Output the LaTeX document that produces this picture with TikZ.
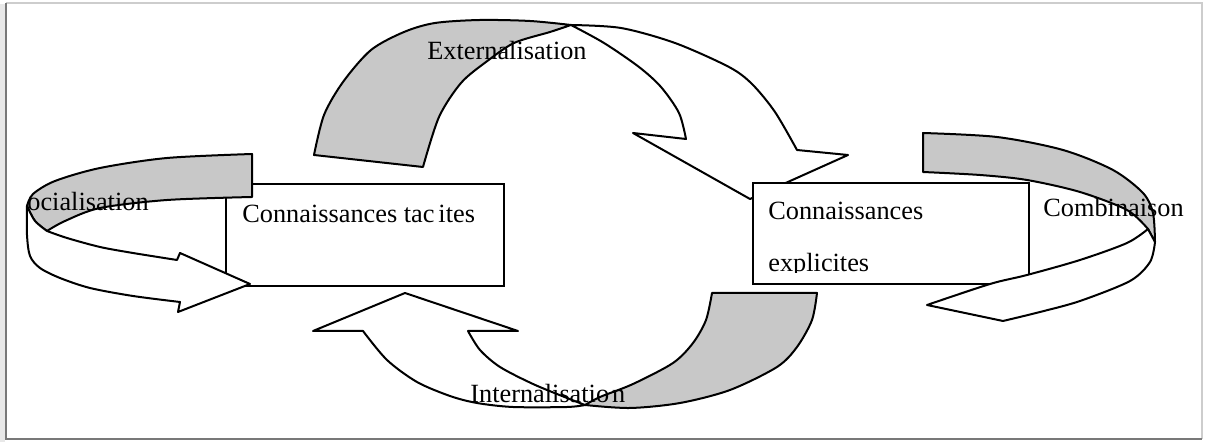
\documentclass[tikz,border=0pt]{standalone}
\usepackage{fontspec}
\setmainfont{Liberation Serif}
\usetikzlibrary{calc}
\definecolor{ribbon}{RGB}{200,200,200}
\definecolor{framedark}{RGB}{120,120,120}
\definecolor{framelight}{RGB}{205,205,205}
\newcommand{\labelfont}{\fontsize{13.15}{15}\selectfont}
\tikzset{
  outline/.style={draw=black, line width=1pt, line join=round},
  backside/.style={outline, fill=ribbon},
  frontside/.style={outline, fill=white},
  box/.style={draw=black, line width=1pt, fill=white, inner sep=0pt, anchor=north west},
  lbl/.style={inner sep=0pt, anchor=base west, font=\labelfont},
}
\begin{document}
\begin{tikzpicture}[x=0.5pt, y=-0.5pt]
  % page and frame
  \fill[white] (0,0) rectangle (1206,442);
  \useasboundingbox (0,0) rectangle (1206,442);
  \fill[gray!18] (0,4) rectangle (5,442);
  \draw[framelight, line width=0.6pt] (6,3) -- (1202,3) -- (1202,439);
  \draw[framedark, line width=1.3pt] (6,3) -- (6,439) -- (1202,439);

  % Externalisation: twisted ribbon arrow, back side then front side
  \path[backside] (423,167) -- (314,155)
    -- plot[smooth] coordinates {(314,155) (324,115) (343,82) (371,50) (404,32) (435,23) (480,20) (530,21) (571,25)}
    -- plot[smooth] coordinates {(571,25) (550,32) (514,43) (486,62) (461,83) (439,117) (423,167)} -- cycle;
  \path[frontside] plot[smooth] coordinates {(571,25) (621,28) (675,43) (729,67) (752,84) (775,112) (797,150)}
    -- (848,155) -- (750,199) -- (633,133) -- (686,139)
    -- plot[smooth] coordinates {(686,139) (679,113) (661,87) (639,67) (604,43) (571,25)} -- cycle;

  % Internalisation: twisted ribbon arrow
  \path[backside] (712,293) -- (817,293)
    -- plot[smooth] coordinates {(817,293) (812,320) (797,347) (777,367) (730,390) (680,403) (630,408) (585,405)}
    -- plot[smooth] coordinates {(585,405) (600,397) (633,384) (673,363) (693,343) (706,320) (712,293)} -- cycle;
  \path[frontside] plot[smooth] coordinates {(585,405) (567,407) (513,407) (477,403) (450,396) (417,382) (387,360) (363,331)}
    -- (313,331) -- (405,293) -- (518,331) -- (468,331)
    -- plot[smooth] coordinates {(468,331) (480,350) (500,367) (533,384) (567,398) (585,405)} -- cycle;

  % the two knowledge boxes
  \node[box, minimum width=139pt, minimum height=51pt] (tacit) at (225,183) {};
  \node[box, minimum width=138pt, minimum height=50.5pt] (explicit) at (752,182) {};

  % Socialisation: ribbon arrow looping into the tacit box
  \path[backside] plot[smooth] coordinates {(252,154) (167,158) (100,168) (55,181) (33,194) (27,206)}
    -- plot[smooth] coordinates {(27,206) (35,221) (47,231)}
    -- plot[smooth] coordinates {(47,231) (65,221) (100,208) (167,200) (252,197)} -- cycle;
  \path[frontside] plot[smooth] coordinates {(27,206) (27,235) (30,256) (40,268) (60,278) (90,288) (133,296) (180,302)}
    -- (178,312) -- (250,284) -- (180,253) -- (177,260)
    -- plot[smooth] coordinates {(177,260) (133,253) (100,247) (67,238) (47,231)}
    -- plot[smooth] coordinates {(47,231) (35,221) (27,206)} -- cycle;

  % Combinaison: ribbon arrow looping back into the explicit box
  \path[backside] (923,172) -- (923,133)
    -- plot[smooth] coordinates {(923,133) (997,137) (1063,150) (1113,170) (1143,193) (1153,213) (1155,242)}
    -- (1148,229)
    -- plot[smooth] coordinates {(1148,229) (1127,210) (1080,192) (1027,180) (980,175) (923,172)} -- cycle;
  \path[frontside] (1148,229) -- (1155,242)
    -- plot[smooth] coordinates {(1155,242) (1150,262) (1130,281) (1080,301) (1040,312) (1003,321)}
    -- (927,305)
    -- plot[smooth] coordinates {(927,305) (990,284) (1027,275) (1080,260) (1127,243) (1148,229)} -- cycle;

  % labels
  \node[lbl] (ext)  at (427,60)   {Externalisation};
  \node[lbl] (soc)  at (27,211)   {ocialisation};
  \node[lbl] (int)  at (470,403)  {Internalisatio\kern1.5pt n};
  \node[lbl] (comb) at (1043,217) {Combinaison};
  \node[lbl] (tacT) at ($(tacit.north west)+(17,40)$) {Connaissances tac\kern2pt ites};
  \node[lbl] (expA) at ($(explicit.north west)+(16,38)$) {Connaissances};
  \begin{scope}
    % the second line is cut off just under its baseline
    \clip (752,182) rectangle (1028,273);
    \node[lbl] (expB) at ($(explicit.north west)+(16,90)$) {explicites};
  \end{scope}
\end{tikzpicture}
\end{document}
